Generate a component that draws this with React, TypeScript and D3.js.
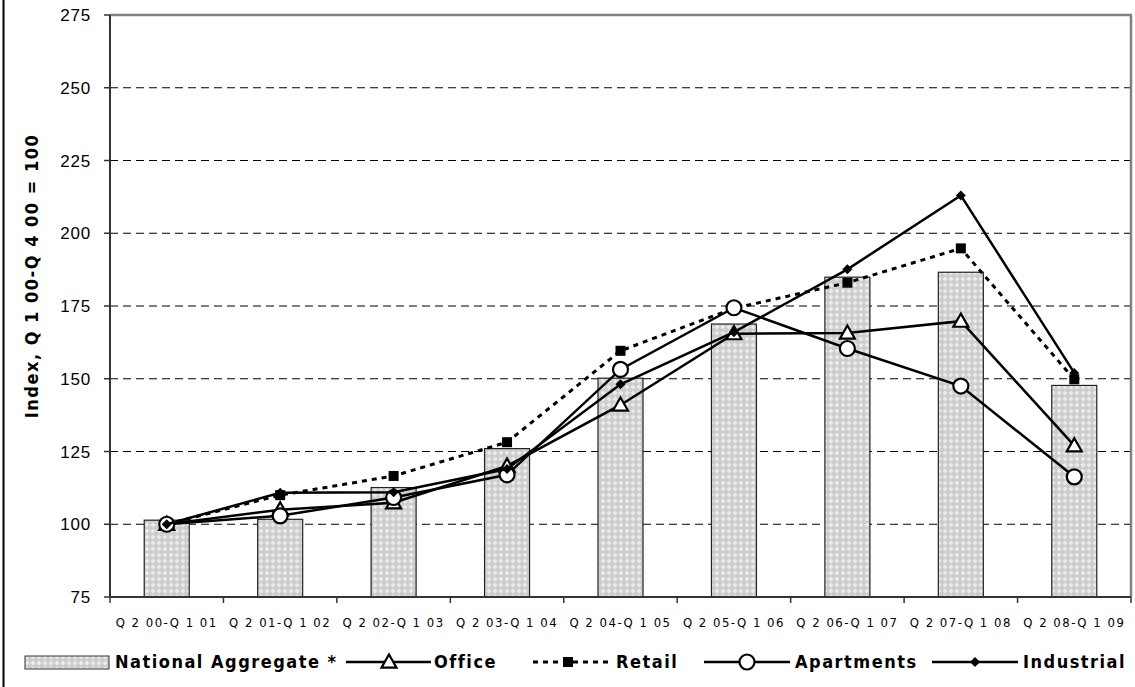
import React from "react";
import * as d3 from "d3";

const categories = [
  "Q 2 00-Q 1 01",
  "Q 2 01-Q 1 02",
  "Q 2 02-Q 1 03",
  "Q 2 03-Q 1 04",
  "Q 2 04-Q 1 05",
  "Q 2 05-Q 1 06",
  "Q 2 06-Q 1 07",
  "Q 2 07-Q 1 08",
  "Q 2 08-Q 1 09",
];
const nationalAggregate = [101.4, 101.7, 112.6, 126, 150.2, 168.8, 184.9, 186.6, 147.7];
const office = [100, 105, 107.4, 120, 141, 165.5, 165.7, 169.8, 127];
const retail = [100, 110, 116.6, 128.2, 159.6, 174.2, 183, 194.8, 149.8];
const apartments = [100, 102.9, 109.2, 117, 153.2, 174.4, 160.4, 147.5, 116.3];
const industrial = [100, 110.8, 111, 119, 148.1, 166, 187.6, 213, 152];
const yTicks = [75, 100, 125, 150, 175, 200, 225, 250, 275];

const W = 1135;
const H = 687;
const left = 110;
const right = 1131;
const top = 15;
const bottom = 597;

const narrow = "'Liberation Sans Narrow', 'Arial Narrow', 'DejaVu Sans Condensed', sans-serif";
const regular = "'Liberation Sans', Arial, sans-serif";

type Marker = "triangle" | "square" | "circle" | "diamond";

function MarkerShape({ kind, x, y }: { kind: Marker; x: number; y: number }) {
  if (kind === "triangle") {
    const s = 7.5;
    return (
      <path
        d={`M${x},${y - s} L${x + s},${y + s * 0.75} L${x - s},${y + s * 0.75} Z`}
        fill="#fff"
        stroke="#000"
        strokeWidth={2.2}
      />
    );
  }
  if (kind === "square") {
    return <rect x={x - 5} y={y - 5} width={10} height={10} fill="#000" />;
  }
  if (kind === "circle") {
    return <circle cx={x} cy={y} r={7.5} fill="#fff" stroke="#000" strokeWidth={2.2} />;
  }
  return <path d={`M${x},${y - 5} L${x + 5},${y} L${x},${y + 5} L${x - 5},${y} Z`} fill="#000" />;
}

export default function App() {
  const x = d3.scaleBand<string>().domain(categories).range([left, right]).paddingInner(0).paddingOuter(0);
  const y = d3.scaleLinear().domain([75, 275]).range([bottom, top]);
  const bw = 45;
  const cx = (c: string) => (x(c) as number) + x.bandwidth() / 2;

  const series: { name: string; values: number[]; marker: Marker; dash?: string }[] = [
    { name: "Office", values: office, marker: "triangle" },
    { name: "Retail", values: retail, marker: "square", dash: "5,5" },
    { name: "Apartments", values: apartments, marker: "circle" },
    { name: "Industrial", values: industrial, marker: "diamond" },
  ];

  const line = d3
    .line<number>()
    .x((_, i) => cx(categories[i]))
    .y((v) => y(v));

  const boundaries = categories.map((c) => x(c) as number).concat([right]);

  const legendY = 662;
  const legendLines: { name: string; marker: Marker; dash?: string; x0: number; x1: number; mx: number; tx: number }[] = [
    { name: "Office", marker: "triangle", x0: 346, x1: 431, mx: 389, tx: 434 },
    { name: "Retail", marker: "square", dash: "5,5", x0: 533, x1: 612, mx: 568, tx: 616 },
    { name: "Apartments", marker: "circle", x0: 704, x1: 790, mx: 747, tx: 795 },
    { name: "Industrial", marker: "diamond", x0: 932, x1: 1018, mx: 975, tx: 1023 },
  ];

  return (
    <svg
      width={W}
      height={H}
      style={{ position: "absolute", left: 0, top: 0, background: "#fff" }}
    >
      <defs>
        <pattern id="hatch" width="6" height="6" patternUnits="userSpaceOnUse">
          <rect width="6" height="6" fill="#cdcdcd" />
          <path d="M3,0.5 L5.5,3 L3,5.5 L0.5,3 Z" fill="#ebebeb" />
        </pattern>
      </defs>
      {/* outer frame left edge */}
      <line x1={3.5} x2={3.5} y1={0} y2={H} stroke="#000" strokeWidth={2} />

      {/* gridlines */}
      {yTicks
        .filter((t) => t !== 75 && t !== 275)
        .map((t) => (
          <line
            key={t}
            x1={left}
            x2={right}
            y1={y(t)}
            y2={y(t)}
            stroke="#000"
            strokeWidth={1}
            strokeDasharray="8,5"
          />
        ))}
      {/* plot area border top/right */}
      <line x1={left} x2={right + 1} y1={y(275)} y2={y(275)} stroke="#808080" strokeWidth={2.5} />
      <line x1={right} x2={right} y1={y(275)} y2={bottom} stroke="#808080" strokeWidth={2.5} />

      {/* bars */}
      {categories.map((c, i) => (
        <rect
          key={c}
          x={cx(c) - bw / 2}
          y={y(nationalAggregate[i])}
          width={bw}
          height={bottom - y(nationalAggregate[i])}
          fill="url(#hatch)"
          stroke="#222"
          strokeWidth={1.2}
        />
      ))}

      {/* axes */}
      <line x1={left} x2={left} y1={top} y2={bottom} stroke="#333" strokeWidth={2} />
      <line x1={left} x2={right} y1={bottom} y2={bottom} stroke="#333" strokeWidth={2} />
      {yTicks.map((t) => (
        <g key={t}>
          <line x1={left - 6} x2={left} y1={y(t)} y2={y(t)} stroke="#333" strokeWidth={1.5} />
          <text
            x={91}
            y={y(t)}
            dy="0.36em"
            textAnchor="end"
            fontFamily={regular}
            fontSize={17}
            letterSpacing={0.8}
            fill="#000"
          >
            {t}
          </text>
        </g>
      ))}
      {boundaries.map((b, i) => (
        <line key={i} x1={b} x2={b} y1={bottom} y2={bottom + 6} stroke="#333" strokeWidth={1.5} />
      ))}
      {categories.map((c) => (
        <text
          key={c}
          x={cx(c)}
          y={627}
          textAnchor="middle"
          fontFamily={narrow}
          fontSize={13}
          letterSpacing={1.5}
          fill="#000"
        >
          {c}
        </text>
      ))}
      <text
        transform={`translate(38,276) rotate(-90)`}
        textAnchor="middle"
        fontFamily={narrow}
        fontWeight="bold"
        fontSize={18}
        letterSpacing={1.5}
        fill="#000"
      >
        Index, Q 1 00-Q 4 00 = 100
      </text>

      {/* lines */}
      {series.map((s) => (
        <g key={s.name}>
          <path
            d={line(s.values) as string}
            fill="none"
            stroke="#000"
            strokeWidth={s.dash ? 3 : 2.5}
            strokeDasharray={s.dash}
          />
          {s.values.map((v, i) => (
            <MarkerShape key={i} kind={s.marker} x={cx(categories[i])} y={y(v)} />
          ))}
        </g>
      ))}

      {/* legend */}
      <rect x={25} y={656} width={84} height={13} fill="url(#hatch)" stroke="#333" strokeWidth={1} />
      <text
        x={115}
        y={legendY}
        dy="0.36em"
        fontFamily={narrow}
        fontWeight="bold"
        fontSize={18}
        letterSpacing={1.5}
        fill="#000"
      >
        National Aggregate *
      </text>
      {legendLines.map((l) => (
        <g key={l.name}>
          <line
            x1={l.x0}
            x2={l.x1}
            y1={legendY}
            y2={legendY}
            stroke="#000"
            strokeWidth={l.dash ? 3 : 2.5}
            strokeDasharray={l.dash}
          />
          <MarkerShape kind={l.marker} x={l.mx} y={legendY} />
          <text
            x={l.tx}
            y={legendY}
            dy="0.36em"
            fontFamily={narrow}
            fontWeight="bold"
            fontSize={18}
            letterSpacing={1.5}
            fill="#000"
          >
            {l.name}
          </text>
        </g>
      ))}
    </svg>
  );
}
